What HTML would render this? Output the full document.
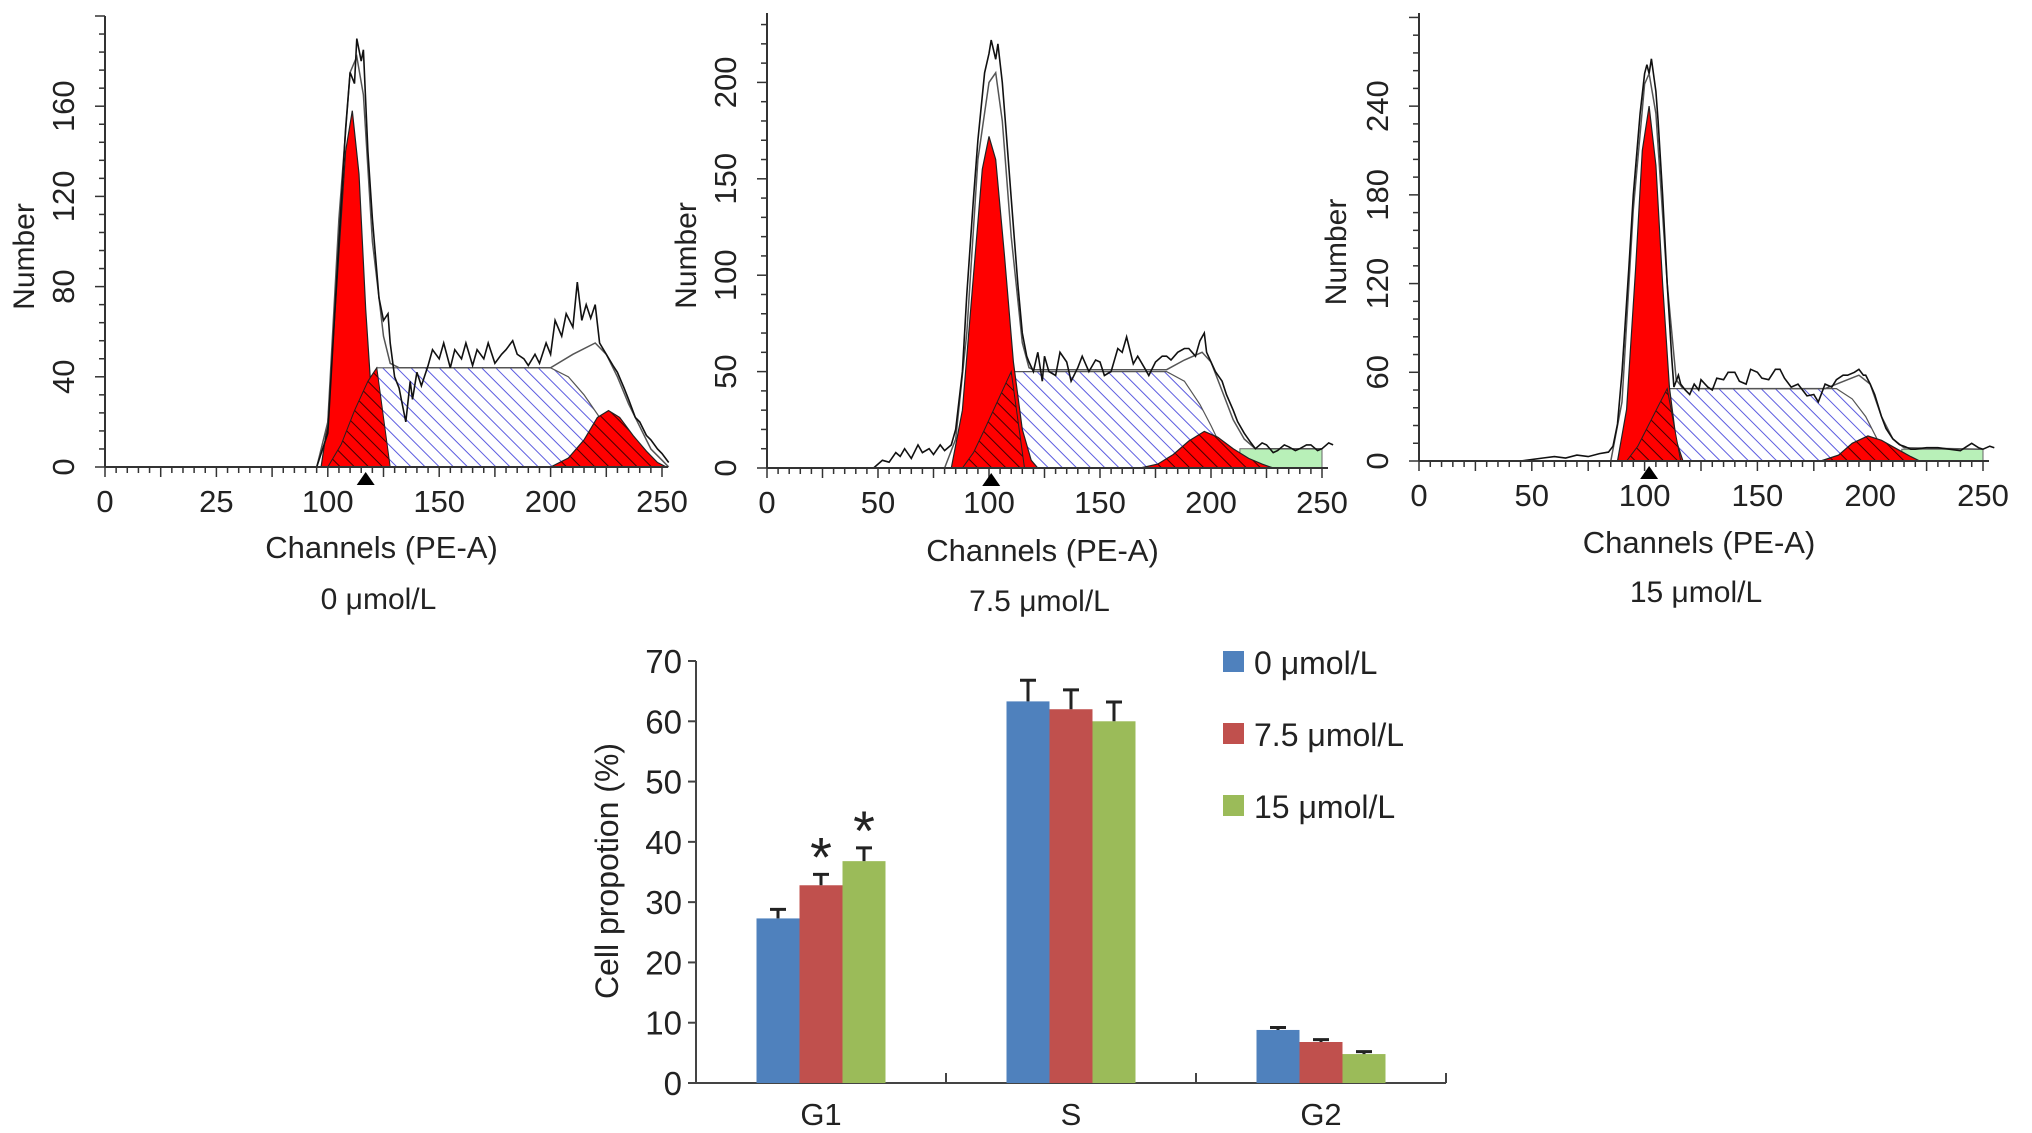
<!DOCTYPE html>
<html><head><meta charset="utf-8"><style>
html,body{margin:0;padding:0;background:#fff;}
svg{display:block;font-family:"Liberation Sans",Arial,sans-serif;}
</style></head><body>
<svg id="fig" width="2032" height="1133" viewBox="0 0 2032 1133" xmlns="http://www.w3.org/2000/svg">
<defs>
<pattern id="hb" patternUnits="userSpaceOnUse" width="10" height="10" patternTransform="rotate(-45)"><line x1="0" y1="0" x2="0" y2="10" stroke="#5c5ce0" stroke-width="2"/></pattern>
<pattern id="hk" patternUnits="userSpaceOnUse" width="10" height="10" patternTransform="rotate(-45)"><rect width="10" height="10" fill="#ff0000"/><line x1="0" y1="0" x2="0" y2="10" stroke="#400" stroke-width="2"/></pattern>
</defs>
<g id="hists"></g>
<g id="bars"></g>
</svg>
<script>
// ===== Histogram data =====
const p1Raw=[[95,0],[100,15],[105,100],[108,150],[110,175],[112,170],[113,190],[115,180],[116,185],[118,140],[120,110],[123,75],[125,65],[127,68],[128,55],[130,40],[132,35],[133,30],[135,20],[137,38],[138,30],[140,42],[142,36],[145,45],[147,52],[150,48],[152,55],[155,44],[157,52],[160,48],[162,55],[165,45],[167,52],[170,48],[172,55],[175,46],[178,50],[180,52],[183,56],[185,50],[188,48],[190,45],[193,50],[195,46],[198,55],[200,50],[202,65],[205,58],[207,68],[210,62],[212,82],[214,65],[216,72],[218,66],[220,72],[222,55],[225,50],[228,45],[230,42],[233,35],[235,30],[238,22],[240,20],[243,14],[245,12],[248,8],[250,6],[253,2]];
const p1Env=[[95,0],[100,20],[105,110],[110,175],[113,182],[116,165],[120,100],[125,58],[128,46],[132,44],[200,44],[210,50],[220,55],[225,50],[230,40],[235,28],[240,18],[245,8],[250,3],[253,0]];
const p1G1=[[97,0],[100,20],[104,80],[108,140],[111,158],[114,130],[117,70],[120,25],[124,5],[128,0]];
const p1S=[[100,0],[106,10],[112,25],[118,38],[122,44],[200,44],[208,40],[215,32],[222,22],[230,10],[238,3],[243,0]];
const p1G2=[[200,0],[208,4],[215,12],[221,22],[226,25],[231,22],[237,14],[243,7],[248,2],[252,0]];
const p1Deb=[];
const p1Yticks=[0,40,80,120,160];
const p1XtickPos=[0,50,100,150,200,250];
const p1XtickLab=["0","25","100","150","200","250"];

const p2Raw=[[48,0],[52,4],[55,3],[58,8],[60,6],[62,10],[65,5],[68,12],[70,8],[73,10],[75,7],[78,12],[80,9],[83,12],[85,20],[88,50],[90,90],[93,140],[95,170],[98,205],[100,215],[101,222],[103,212],[104,220],[106,200],[108,170],[110,140],[113,95],[115,70],[117,58],[118,55],[120,50],[122,60],[124,45],[125,58],[127,50],[130,48],[132,60],[135,55],[137,45],[140,52],[142,58],[145,50],[148,56],[150,55],[152,48],[155,50],[158,62],[160,60],[162,68],[165,54],[167,58],[170,52],[172,48],[175,55],[178,58],[180,58],[182,56],[185,60],[188,62],[190,62],[193,58],[195,66],[197,70],[198,60],[200,55],[202,50],[205,45],[207,38],[210,30],[212,24],[215,18],[218,13],[220,10],[223,13],[225,12],[228,8],[230,9],[233,12],[235,11],[238,9],[240,10],[243,12],[245,12],[248,9],[250,10],[253,13],[255,12]];
const p2Env=[[80,0],[85,15],[90,70],[95,160],[100,200],[103,205],[106,180],[110,120],[115,65],[118,52],[120,51],[180,51],[188,56],[196,60],[200,55],[205,40],[210,25],[215,15],[220,10],[250,10]];
const p2G1=[[83,0],[88,30],[93,100],[97,155],[100,172],[103,160],[107,110],[111,55],[115,20],[119,4],[122,0]];
const p2S=[[88,0],[93,8],[98,20],[104,35],[110,50],[180,50],[188,45],[195,33],[200,22],[205,10],[210,3],[214,0]];
const p2G2=[[168,0],[176,2],[183,7],[190,14],[197,19],[203,16],[210,10],[217,5],[223,2],[228,0]];
const p2Deb=[[213,0],[213,10],[250,10],[250,0]];
const p2Yticks=[0,50,100,150,200];
const p2XtickPos=[0,50,100,150,200,250];
const p2XtickLab=["0","50","100","150","200","250"];

const p3Raw=[[45,0],[55,2],[60,3],[65,2],[70,4],[75,3],[80,5],[84,6],[86,10],[88,25],[90,60],[93,130],[95,180],[98,235],[100,262],[101,268],[102,262],[103,272],[105,250],[106,230],[108,180],[110,120],[112,70],[113,50],[115,58],[116,52],[118,48],[120,45],[122,52],[124,48],[125,55],[128,50],[130,48],[132,56],[135,55],[137,60],[140,60],[142,54],[145,52],[147,62],[150,60],[152,56],[155,55],[158,62],[160,62],[162,56],[165,50],[168,52],[170,48],[172,44],[175,45],[177,40],[180,52],[183,50],[185,55],[188,58],[190,58],[193,60],[195,62],[197,58],[198,58],[200,52],[202,45],[205,30],[207,22],[210,15],[213,11],[215,10],[218,8],[220,8],[225,9],[230,9],[235,8],[240,7],[243,10],[245,12],[248,9],[250,8],[253,10],[255,9]];
const p3Env=[[85,0],[90,40],[95,170],[100,255],[102,262],[105,235],[110,120],[114,55],[117,49],[180,49],[190,55],[195,58],[200,52],[205,30],[210,15],[215,9],[250,8]];
const p3G1=[[88,0],[92,35],[96,130],[99,210],[102,240],[105,200],[108,120],[111,50],[114,14],[117,0]];
const p3S=[[92,0],[97,10],[102,25],[107,40],[110,49],[185,49],[192,42],[198,30],[203,15],[207,5],[210,0]];
const p3G2=[[178,0],[186,4],[192,12],[199,17],[205,14],[212,8],[218,3],[222,0]];
const p3Deb=[[214,0],[214,8],[250,8],[250,0]];
const p3Yticks=[0,60,120,180,240];
const p3XtickPos=[0,50,100,150,200,250];
const p3XtickLab=["0","50","100","150","200","250"];

const panels=[
 {raw:p1Raw,env:p1Env,g1:p1G1,s:p1S,g2:p1G2,deb:p1Deb,yt:p1Yticks,xp:p1XtickPos,xl:p1XtickLab,ymax:200,ystep:8,mark:117,label:"0 μmol/L",x0:105,x1:662,base:467,top:16,nameX:24,chanY:558,labY:609},
 {raw:p2Raw,env:p2Env,g1:p2G1,s:p2S,g2:p2G2,deb:p2Deb,yt:p2Yticks,xp:p2XtickPos,xl:p2XtickLab,ymax:236,ystep:10,mark:101,label:"7.5 μmol/L",x0:767,x1:1322,base:468,top:13,nameX:686,chanY:561,labY:611},
 {raw:p3Raw,env:p3Env,g1:p3G1,s:p3S,g2:p3G2,deb:p3Deb,yt:p3Yticks,xp:p3XtickPos,xl:p3XtickLab,ymax:303,ystep:12,mark:102,label:"15 μmol/L",x0:1419,x1:1983,base:461,top:13,nameX:1336,chanY:553,labY:602}
];
const NS="http://www.w3.org/2000/svg";
function mk(tag,attrs,parent){const e=document.createElementNS(NS,tag);for(const k in attrs)e.setAttribute(k,attrs[k]);parent.appendChild(e);return e;}
const H=document.getElementById('hists');
panels.forEach((p,i)=>{
 const g=mk('g',{},H);
 
 
 const X=c=>p.x0+(p.x1-p.x0)*c/250;
 const Y=v=>p.base-(p.base-p.top)*v/p.ymax;
 const pts=a=>a.map(d=>X(d[0]).toFixed(1)+','+Y(d[1]).toFixed(1)).join(' ');
 if(p.deb.length){const d=mk('polygon',{points:pts(p.deb),fill:'#b8f0b8',stroke:'#666','stroke-width':1},g);
  }
 const s=mk('polygon',{points:pts(p.s),fill:'url(#hb)',stroke:'#555','stroke-width':1.2},g);
 
 const g1=mk('polygon',{points:pts(p.g1),fill:'#ff0000',stroke:'#222','stroke-width':1.2},g);
 
 const peakC=p.g1.reduce((a,b)=>b[1]>a[1]?b:a)[0];
 const sEnd=p.s.find(d=>d[1]>=p.s[4][1]&&d[0]>peakC)||p.s[4];
 const sl=p.s.filter(d=>d[0]<=sEnd[0]);
 const slPts=sl.concat([[sEnd[0]+6,0]]);
 const s2=mk('polygon',{points:pts(slPts),fill:'url(#hk)',stroke:'#222','stroke-width':1},g);
 
 const g2=mk('polygon',{points:pts(p.g2),fill:'url(#hk)',stroke:'#222','stroke-width':1.2},g);
 
 const env=mk('polyline',{points:pts(p.env),fill:'none',stroke:'#555','stroke-width':1.5},g);
 
 const raw=mk('polyline',{points:pts(p.raw),fill:'none',stroke:'#111','stroke-width':1.6},g);
 
 const ax=mk('line',{x1:p.x0,y1:p.base,x2:p.x1+6,y2:p.base,stroke:'#333','stroke-width':2},g);
 
 const ay=mk('line',{x1:p.x0,y1:p.base,x2:p.x0,y2:p.top,stroke:'#333','stroke-width':2},g);
 
 for(let c=0;c<=250;c+=5){const maj=c%25===0;mk('line',{x1:X(c),y1:p.base,x2:X(c),y2:p.base+(maj?10:6),stroke:'#333','stroke-width':1.5},g);}
 for(let v=0;v<=p.ymax;v+=p.ystep){mk('line',{x1:p.x0,y1:Y(v),x2:p.x0-(v%(p.ystep*5)===0?10:6),y2:Y(v),stroke:'#333','stroke-width':1.5},g);}
 p.xp.forEach((c,k)=>{const t=mk('text',{x:X(c),y:p.base+45,'text-anchor':'middle','font-size':31,fill:'#222'},g);t.textContent=p.xl[k];
  });
 p.yt.forEach(v=>{const t=mk('text',{x:0,y:0,'text-anchor':'middle','font-size':31,fill:'#222',transform:`translate(${p.x0-31},${Y(v)}) rotate(-90)`},g);t.textContent=v;
  });
 const m=mk('polygon',{points:`${X(p.mark)-9},${p.base+18} ${X(p.mark)+9},${p.base+18} ${X(p.mark)},${p.base+5}`,fill:'#000'},g);
 
 const yl=mk('text',{x:0,y:0,'text-anchor':'middle','font-size':30,fill:'#222',transform:`translate(${p.nameX+10},${(p.base+p.top)/2+15}) rotate(-90)`},g);yl.textContent='Number';
 
 const xl=mk('text',{x:(p.x0+p.x1)/2-2,y:p.chanY,'text-anchor':'middle','font-size':31,fill:'#222'},g);xl.textContent='Channels (PE-A)';
 
 const lb=mk('text',{x:(p.x0+p.x1)/2-5,y:p.labY,'text-anchor':'middle','font-size':30,fill:'#222'},g);lb.textContent=p.label;
 
});

// ===== Bar chart data =====
const categories=["G1","S","G2"];
const seriesNames=["0 μmol/L","7.5 μmol/L","15 μmol/L"];
const vals0=[27.3,63.3,8.8];
const vals75=[32.8,62.0,6.8];
const vals15=[36.8,60.0,4.8];
const err0=[1.5,3.5,0.4];
const err75=[1.8,3.2,0.4];
const err15=[2.2,3.2,0.4];
const sig75=[true,false,false];
const sig15=[true,false,false];
const yTicks=[0,10,20,30,40,50,60,70];
const colors=["#4f81bd","#c0504d","#9bbb59"];
const B=document.getElementById('bars');
const bx0=696,bx1=1446,by0=1083,by70=661;
const yS=v=>by0-(by0-by70)*v/70;
const catW=(bx1-bx0)/3, barW=43;
const ax1=mk('line',{x1:bx0,y1:by0,x2:bx1,y2:by0,stroke:'#444','stroke-width':2},B);

const ay1=mk('line',{x1:bx0,y1:by0,x2:bx0,y2:by70,stroke:'#444','stroke-width':2},B);

yTicks.forEach(v=>{mk('line',{x1:bx0-8,y1:yS(v),x2:bx0,y2:yS(v),stroke:'#444','stroke-width':2},B);
 const t=mk('text',{x:bx0-14,y:yS(v)+12,'text-anchor':'end','font-size':33,fill:'#222'},B);t.textContent=v;
 });
for(let k=1;k<=3;k++){mk('line',{x1:bx0+catW*k,y1:by0,x2:bx0+catW*k,y2:by0-10,stroke:'#444','stroke-width':2},B);}
const allV=[vals0,vals75,vals15],allE=[err0,err75,err15],allSig=[null,sig75,sig15];
categories.forEach((c,ci)=>{
 const cx=bx0+catW*(ci+0.5);
 const t=mk('text',{x:cx,y:by0+42,'text-anchor':'middle','font-size':31,fill:'#222'},B);t.textContent=c;
 
 allV.forEach((arr,si)=>{
  const x=cx-barW*1.5+barW*si, v=arr[ci], e=allE[si][ci];
  const r=mk('rect',{x:x,y:yS(v),width:barW,height:by0-yS(v),fill:colors[si]},B);
  
  const ex=x+barW/2;
  const el=mk('path',{d:`M${ex},${yS(v)} V${yS(v+e)} M${ex-8},${yS(v+e)} H${ex+8}`,stroke:'#222','stroke-width':3,fill:'none'},B);
  
  if(allSig[si]&&allSig[si][ci]){const s=mk('text',{x:ex,y:yS(v+e)+2,'text-anchor':'middle','font-size':56,fill:'#222'},B);s.textContent='*';
   }
 });
});
const yt=mk('text',{x:0,y:0,'text-anchor':'middle','font-size':32,fill:'#222',transform:'translate(618,871) rotate(-90)'},B);yt.textContent='Cell propotion (%)';

seriesNames.forEach((n,si)=>{
 const cy=662+72*si;
 const g=mk('g',{},B);
 
 mk('rect',{x:1223,y:cy-11,width:21,height:21,fill:colors[si]},g);
 const t=mk('text',{x:1254,y:cy+12,'font-size':32,fill:'#222'},g);t.textContent=n;
});
</script>
</body></html>
